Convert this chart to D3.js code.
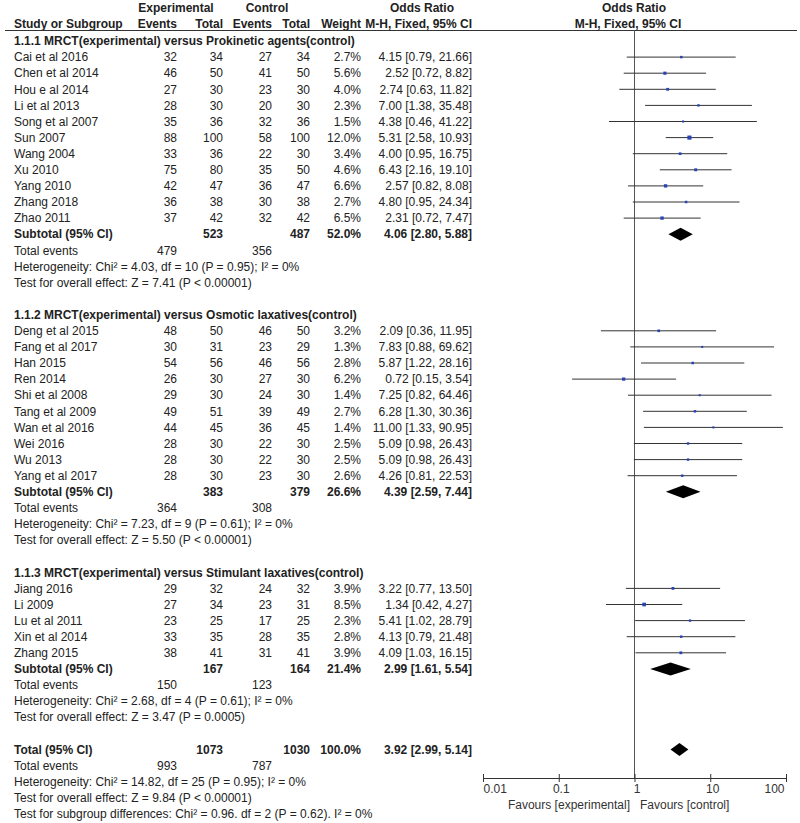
<!DOCTYPE html>
<html>
<head>
<meta charset="utf-8">
<script src="https://cdn.jsdelivr.net/npm/d3@7"></script>
<style>
	body { margin: 0; background: #fff; }
	svg { font-family: "Liberation Sans", Arial, sans-serif; font-size: 12px; }
</style>
</head>
<body>
<div id="plot"></div>
<script>
// study level data
const studyNames = [
	"Cai et al 2016", "Chen et al 2014", "Hou e al 2014", "Li et al 2013", "Song et al 2007",
	"Sun 2007", "Wang 2004", "Xu  2010", "Yang 2010", "Zhang 2018", "Zhao 2011",
	"Deng et al 2015", "Fang et al 2017", "Han 2015", "Ren 2014", "Shi et al 2008",
	"Tang et al 2009", "Wan et al 2016", "Wei 2016", "Wu 2013", "Yang et al 2017",
	"Jiang 2016", "Li 2009", "Lu et al 2011", "Xin et al 2014", "Zhang 2015"
];
const studyGroup = [0,0,0,0,0,0,0,0,0,0,0, 1,1,1,1,1,1,1,1,1,1, 2,2,2,2,2];
const expEvents  = [32,46,27,28,35,88,33,75,42,36,37, 48,30,54,26,29,49,44,28,28,28, 29,27,23,33,38];
const expTotal   = [34,50,30,30,36,100,36,80,47,38,42, 50,31,56,30,30,51,45,30,30,30, 32,34,25,35,41];
const ctrlEvents = [27,41,23,20,32,58,22,35,36,30,32, 46,23,46,27,24,39,36,22,22,23, 24,23,17,28,31];
const ctrlTotal  = [34,50,30,30,36,100,30,50,47,38,42, 50,29,56,30,30,49,45,30,30,30, 32,31,25,35,41];
const weights    = [2.7,5.6,4.0,2.3,1.5,12.0,3.4,4.6,6.6,2.7,6.5, 3.2,1.3,2.8,6.2,1.4,2.7,1.4,2.5,2.5,2.6, 3.9,8.5,2.3,2.8,3.9];
const orEst      = [4.15,2.52,2.74,7.00,4.38,5.31,4.00,6.43,2.57,4.80,2.31, 2.09,7.83,5.87,0.72,7.25,6.28,11.00,5.09,5.09,4.26, 3.22,1.34,5.41,4.13,4.09];
const ciLow      = [0.79,0.72,0.63,1.38,0.46,2.58,0.95,2.16,0.82,0.95,0.72, 0.36,0.88,1.22,0.15,0.82,1.30,1.33,0.98,0.98,0.81, 0.77,0.42,1.02,0.79,1.03];
const ciHigh     = [21.66,8.82,11.82,35.48,41.22,10.93,16.75,19.10,8.08,24.34,7.47, 11.95,69.62,28.16,3.54,64.46,30.36,90.95,26.43,26.43,22.53, 13.50,4.27,28.79,21.48,16.15];

// subgroup level data
const groupTitles = [
	"1.1.1 MRCT(experimental) versus Prokinetic agents(control)",
	"1.1.2 MRCT(experimental) versus Osmotic laxatives(control)",
	"1.1.3 MRCT(experimental) versus Stimulant laxatives(control)"
];
const subExpTotal  = [523, 383, 167];
const subCtrlTotal = [487, 379, 164];
const subWeight    = [52.0, 26.6, 21.4];
const subOr        = [4.06, 4.39, 2.99];
const subLow       = [2.80, 2.59, 1.61];
const subHigh      = [5.88, 7.44, 5.54];
const subExpEvents = [479, 364, 150];
const subCtrlEvents= [356, 308, 123];
const subHetero = [
	"Heterogeneity: Chi\u00b2 = 4.03, df = 10 (P = 0.95); I\u00b2 = 0%",
	"Heterogeneity: Chi\u00b2 = 7.23, df = 9 (P = 0.61); I\u00b2 = 0%",
	"Heterogeneity: Chi\u00b2 = 2.68, df = 4 (P = 0.61); I\u00b2 = 0%"
];
const subTest = [
	"Test for overall effect: Z = 7.41 (P < 0.00001)",
	"Test for overall effect: Z = 5.50 (P < 0.00001)",
	"Test for overall effect: Z = 3.47 (P = 0.0005)"
];

// overall
const totalExpTotal = 1073, totalCtrlTotal = 1030, totalWeight = 100.0;
const totalOr = 3.92, totalLow = 2.99, totalHigh = 5.14;
const totalExpEvents = 993, totalCtrlEvents = 787;
const totalNotes = [
	"Heterogeneity: Chi\u00b2 = 14.82, df = 25 (P = 0.95); I\u00b2 = 0%",
	"Test for overall effect: Z = 9.84 (P < 0.00001)",
	"Test for subgroup differences: Chi\u00b2 = 0.96. df = 2 (P = 0.62). I\u00b2 = 0%"
];
const axisTicks = [0.01, 0.1, 1, 10, 100];
const tickLabels = ["0.01", "0.1", "1", "10", "100"];

const width = 800, height = 823;
const textColor = "#222";
const fmt2 = d3.format(".2f");
const ciText = (o, l, h) => `${fmt2(o)} [${fmt2(l)}, ${fmt2(h)}]`;

// column anchors
const col = { name: 14, expE: 177, expT: 223, ctlE: 272, ctlT: 310, wt: 361, ci: 472 };

// build row list
const rows = [];
groupTitles.forEach((title, g) => {
	rows.push({ type: "group", label: title });
	studyNames.forEach((s, i) => {
		if (studyGroup[i] === g) rows.push({ type: "study", i: i });
	});
	rows.push({ type: "subtotal", g: g });
	rows.push({ type: "events", e: subExpEvents[g], c: subCtrlEvents[g] });
	rows.push({ type: "note", label: subHetero[g] });
	rows.push({ type: "note", label: subTest[g] });
	rows.push({ type: "blank" });
});
rows.push({ type: "total" });
rows.push({ type: "events", e: totalExpEvents, c: totalCtrlEvents });
totalNotes.forEach(t => rows.push({ type: "note", label: t }));

const rowY = d3.scaleLinear().domain([0, 1]).range([41, 57.1]);

const xScale = d3.scaleLog().domain([0.01, 100]).range([483, 786]);
const axisY = 778;

const svg = d3.select("#plot").append("svg")
	.attr("width", width)
	.attr("height", height);

function txt(x, y, s, anchor, bold) {
	return svg.append("text")
		.attr("x", x).attr("y", y).attr("dy", "0.35em")
		.attr("text-anchor", anchor || "start")
		.attr("font-weight", bold ? "bold" : "normal")
		.attr("fill", textColor)
		.text(s);
}

// headers
txt(176, 8, "Experimental", "middle", true);
txt(267, 8, "Control", "middle", true);
txt(422, 8, "Odds Ratio", "middle", true);
txt(634, 8, "Odds Ratio", "middle", true);
txt(col.name, 24, "Study or Subgroup", "start", true);
txt(col.expE, 24, "Events", "end", true);
txt(col.expT, 24, "Total", "end", true);
txt(col.ctlE, 24, "Events", "end", true);
txt(col.ctlT, 24, "Total", "end", true);
txt(col.wt, 24, "Weight", "end", true);
txt(col.ci, 24, "M-H, Fixed, 95% CI", "end", true);
txt(628, 24, "M-H, Fixed, 95% CI", "middle", true);

svg.append("line")
	.attr("x1", 5).attr("x2", 797).attr("y1", 30.5).attr("y2", 30.5)
	.attr("stroke", "#333").attr("stroke-width", 1);

// line of no effect
svg.append("line")
	.attr("x1", xScale(1)).attr("x2", xScale(1))
	.attr("y1", 30).attr("y2", axisY)
	.attr("stroke", "#555").attr("stroke-width", 1);

function diamond(y, o, l, h) {
	const hh = 6.5;
	svg.append("path")
		.attr("d", `M${xScale(l)},${y} L${xScale(o)},${y - hh} L${xScale(h)},${y} L${xScale(o)},${y + hh} Z`)
		.attr("fill", "#000");
}

rows.forEach((r, k) => {
	const y = rowY(k);
	if (r.type === "group") {
		txt(col.name, y, r.label, "start", true);
	} else if (r.type === "study") {
		const i = r.i;
		txt(col.name, y, studyNames[i]);
		txt(col.expE, y, expEvents[i], "end");
		txt(col.expT, y, expTotal[i], "end");
		txt(col.ctlE, y, ctrlEvents[i], "end");
		txt(col.ctlT, y, ctrlTotal[i], "end");
		txt(col.wt, y, weights[i].toFixed(1) + "%", "end");
		txt(col.ci, y, ciText(orEst[i], ciLow[i], ciHigh[i]), "end");
		svg.append("line")
			.attr("x1", xScale(ciLow[i])).attr("x2", xScale(ciHigh[i]))
			.attr("y1", y).attr("y2", y)
			.attr("stroke", "#333").attr("stroke-width", 1);
		const side = 1 + Math.sqrt(weights[i]) * 0.9;
		svg.append("rect")
			.attr("x", xScale(orEst[i]) - side / 2)
			.attr("y", y - side / 2)
			.attr("width", side).attr("height", side)
			.attr("fill", "#2843b4");
	} else if (r.type === "subtotal") {
		const g = r.g;
		txt(col.name, y, "Subtotal (95% CI)", "start", true);
		txt(col.expT, y, subExpTotal[g], "end", true);
		txt(col.ctlT, y, subCtrlTotal[g], "end", true);
		txt(col.wt, y, subWeight[g].toFixed(1) + "%", "end", true);
		txt(col.ci, y, ciText(subOr[g], subLow[g], subHigh[g]), "end", true);
		diamond(y, subOr[g], subLow[g], subHigh[g]);
	} else if (r.type === "total") {
		txt(col.name, y, "Total (95% CI)", "start", true);
		txt(col.expT, y, totalExpTotal, "end", true);
		txt(col.ctlT, y, totalCtrlTotal, "end", true);
		txt(col.wt, y, totalWeight.toFixed(1) + "%", "end", true);
		txt(col.ci, y, ciText(totalOr, totalLow, totalHigh), "end", true);
		diamond(y, totalOr, totalLow, totalHigh);
	} else if (r.type === "events") {
		txt(col.name, y, "Total events");
		txt(col.expE, y, r.e, "end");
		txt(col.ctlE, y, r.c, "end");
	} else if (r.type === "note") {
		txt(col.name, y, r.label);
	}
});

// log axis
const xAxisGenerator = d3.axisBottom(xScale)
	.tickValues(axisTicks)
	.tickFormat((d, i) => tickLabels[i])
	.tickSizeInner(4)
	.tickSizeOuter(0);

const xAxis = svg.append("g")
	.attr("transform", `translate(0,${axisY})`)
	.call(xAxisGenerator);

xAxis.select(".domain").attr("stroke", "#333");
xAxis.selectAll(".tick line").attr("y1", -4).attr("y2", 4).attr("stroke", "#333");
const lastTick = axisTicks.length - 1;
xAxis.selectAll(".tick text")
	.attr("y", 11).attr("dy", "0.35em")
	.attr("font-size", 12)
	.attr("font-family", "\"Liberation Sans\", Arial, sans-serif")
	.attr("fill", "#333")
	// end labels sit inside the axis span, as in the original
	.attr("text-anchor", (d, i) => i === 0 ? "start" : (i === lastTick ? "end" : "middle"))
	.attr("x", (d, i) => i === 0 ? 0 : (i === lastTick ? -2 : 2));

txt(630, 805, "Favours [experimental]", "end").attr("fill", "#333");
txt(640, 805, "Favours [control]", "start").attr("fill", "#333");
</script>
</body>
</html>
